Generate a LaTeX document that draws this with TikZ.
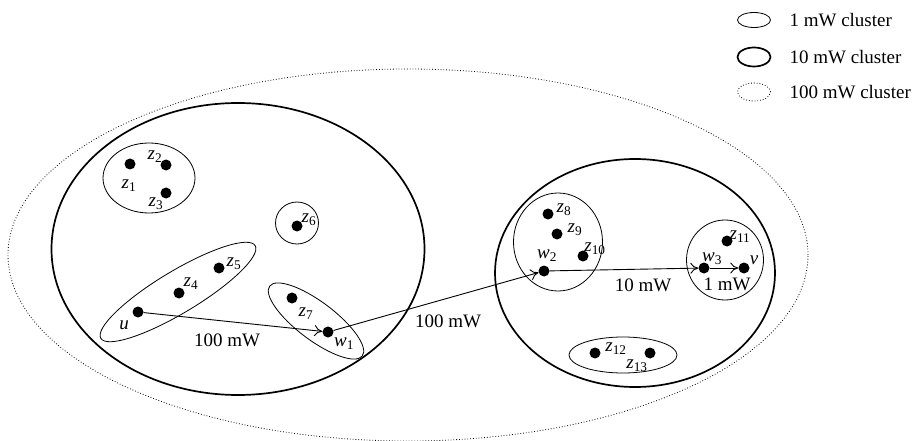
\documentclass[tikz,border=0pt]{standalone}
\usepackage{fontspec}
\setmainfont{Liberation Serif}
\usetikzlibrary{shapes.geometric,arrows.meta}
\newcommand{\vlab}[2]{\textit{#1}\textsubscript{#2}}

\begin{document}
\begin{tikzpicture}[
    x=1pt, y=-1pt,
    font=\fontsize{19}{22}\selectfont,
    dot/.style={circle, fill=black, inner sep=0pt, minimum size=11pt},
    cl1/.style={ellipse, draw, line width=0.8pt, inner sep=0pt},
    cl10/.style={ellipse, draw, line width=1.7pt, inner sep=0pt},
    cl100/.style={ellipse, draw, line width=0.8pt, dotted, inner sep=0pt},
    hop/.style={line width=0.9pt, -{To[length=8pt,width=11pt]}},
    lab/.style={inner sep=1pt}
]
\useasboundingbox (0,0) rectangle (916,441);

% --- Legend ---
\node (key1) at (754,20) [cl1, minimum width=33, minimum height=15] {};
\node (key2) at (754,57) [cl10, minimum width=33, minimum height=19] {};
\node (key3) at (754,92) [cl100, minimum width=33, minimum height=18] {};
\node (txt1) at (786,20) [anchor=west] {1 mW cluster};
\node (txt2) at (786,57) [anchor=west] {10 mW cluster};
\node (txt3) at (786,92) [anchor=west] {100 mW cluster};

% --- Clusters ---
\node (all) at (408,255) [cl100, minimum width=800, minimum height=372] {};
\node (lft) at (238,249) [cl10, minimum width=373, minimum height=292] {};
\node (rgt) at (635,273) [cl10, minimum width=280, minimum height=228] {};

\node (c123) at (149,178) [cl1, minimum width=92, minimum height=70] {};
\node (c6) at (297,223) [cl1, minimum width=43, minimum height=42] {};
\node (c45) at (178,292) [cl1, minimum width=180, minimum height=42, rotate=31] {};
\node (c7) at (316,321) [cl1, minimum width=116, minimum height=38, rotate=-37] {};
\node (c8) at (558,242) [cl1, minimum width=89, minimum height=98] {};
\node (c11) at (725,260) [cl1, minimum width=77, minimum height=80] {};
\node (c12) at (623,355) [cl1, minimum width=108, minimum height=36] {};

% --- Points ---
\node (z1) at (130,164) [dot] {};
\node (z2) at (166,165) [dot] {};
\node (z3) at (166,193) [dot] {};
\node (u) at (138,312) [dot] {};
\node (z4) at (179,293) [dot] {};
\node (z5) at (219,268) [dot] {};
\node (z6) at (297,226) [dot] {};
\node (z7) at (292,298) [dot] {};
\node (w1) at (328,332) [dot] {};
\node (z8) at (548,214) [dot] {};
\node (z9) at (557,234) [dot] {};
\node (z10) at (583,256) [dot] {};
\node (w2) at (544,271) [dot] {};
\node (z11) at (727,241) [dot] {};
\node (w3) at (704,268) [dot] {};
\node (v) at (744,268) [dot] {};
\node (z12) at (595,353) [dot] {};
\node (z13) at (650,353) [dot] {};

% --- Point labels ---
\node (lz1) at (129,186) [lab] {\vlab{z}{1}};
\node (lz2) at (155,157) [lab] {\vlab{z}{2}};
\node (lz3) at (156,204) [lab] {\vlab{z}{3}};
\node (lu) at (124,325) [lab] {\textit{u}};
\node (lz4) at (191,284) [lab] {\vlab{z}{4}};
\node (lz5) at (234,264) [lab] {\vlab{z}{5}};
\node (lz6) at (309,220) [lab] {\vlab{z}{6}};
\node (lz7) at (306,314) [lab] {\vlab{z}{7}};
\node (lw1) at (344,344) [lab] {\vlab{w}{1}};
\node (lz8) at (564,210) [lab] {\vlab{z}{8}};
\node (lz9) at (575,230) [lab] {\vlab{z}{9}};
\node (lz10) at (595,249) [lab] {\vlab{z}{10}};
\node (lw2) at (547,256) [lab] {\vlab{w}{2}};
\node (lz11) at (740,237) [lab] {\vlab{z}{11}};
\node (lw3) at (712,259) [lab] {\vlab{w}{3}};
\node (lv) at (754,260) [lab] {\textit{v}};
\node (lz12) at (616,349) [lab] {\vlab{z}{12}};
\node (lz13) at (637,366) [lab] {\vlab{z}{13}};

% --- Hops ---
\draw [hop] (u) -- (w1);
\draw [hop] (w1) -- (w2);
\draw [hop] (w2) -- (w3);
\draw [hop] (w3) -- (v);

\node (p1) at (227,340) [lab] {100 mW};
\node (p2) at (448,321) [lab] {100 mW};
\node (p3) at (643,285) [lab] {10 mW};
\node (p4) at (727,284) [lab] {1 mW};

\end{tikzpicture}
\end{document}
